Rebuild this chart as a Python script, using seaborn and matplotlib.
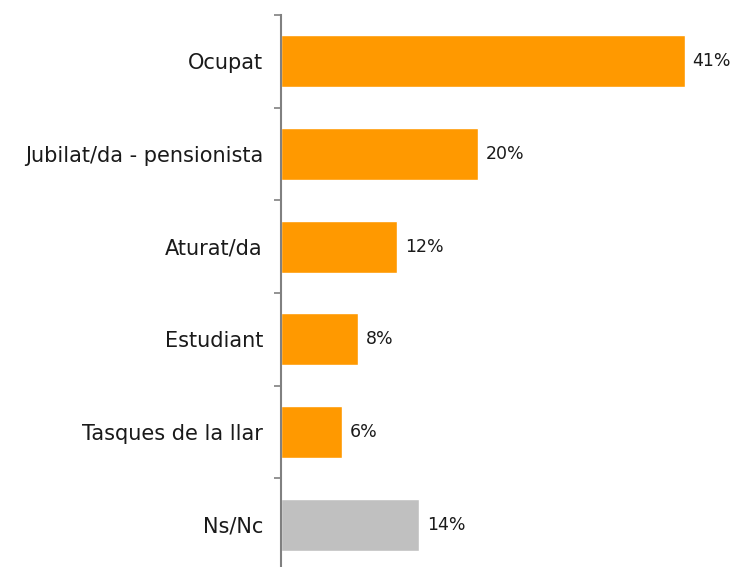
import matplotlib.pyplot as plt
import seaborn as sns
import pandas as pd

categories = ['Ocupat', 'Jubilat/da - pensionista', 'Aturat/da', 'Estudiant',
              'Tasques de la llar', 'Ns/Nc']
values = [41.0, 20.0, 11.8, 7.8, 6.2, 14.0]
value_labels = ['41%', '20%', '12%', '8%', '6%', '14%']
bar_colors = ['#FF9900', '#FF9900', '#FF9900', '#FF9900', '#FF9900', '#C0C0C0']

df = pd.DataFrame({'cat': categories, 'val': values})

sns.set_style('white')
plt.rcParams['font.family'] = ['DejaVu Sans']

fig = plt.figure(figsize=(7.34, 5.67), dpi=100)
ax = fig.add_axes([281 / 734, -4 / 567, 453 / 734, 556 / 567])

sns.barplot(data=df, x='val', y='cat', hue='cat', palette=bar_colors,
            width=0.56, legend=False, ax=ax, saturation=1)

for i, (v, lab) in enumerate(zip(values, value_labels)):
    ax.text(v + 0.8, i, lab, va='center', ha='left', fontsize=12.5, color='#1a1a1a')

ax.set_xlim(0, 46)
ax.set_ylim(len(categories) - 0.5, -0.5)
ax.set_xlabel('')
ax.set_ylabel('')
ax.set_xticks([])
ax.set_yticks([i - 0.5 for i in range(len(categories) + 1)], minor=False)
ax.set_yticklabels([])
ax.set_yticks(range(len(categories)), minor=True)
ax.set_yticklabels(categories, minor=True, fontsize=15, color='#1a1a1a')
ax.tick_params(axis='y', which='major', direction='out', length=5, width=1.2,
               color='#808080', left=True)
ax.tick_params(axis='y', which='minor', length=0, pad=13)

for side in ['top', 'right', 'bottom']:
    ax.spines[side].set_visible(False)
ax.spines['left'].set_color('#808080')
ax.spines['left'].set_linewidth(1.5)

fig.savefig('out.png', dpi=100)
